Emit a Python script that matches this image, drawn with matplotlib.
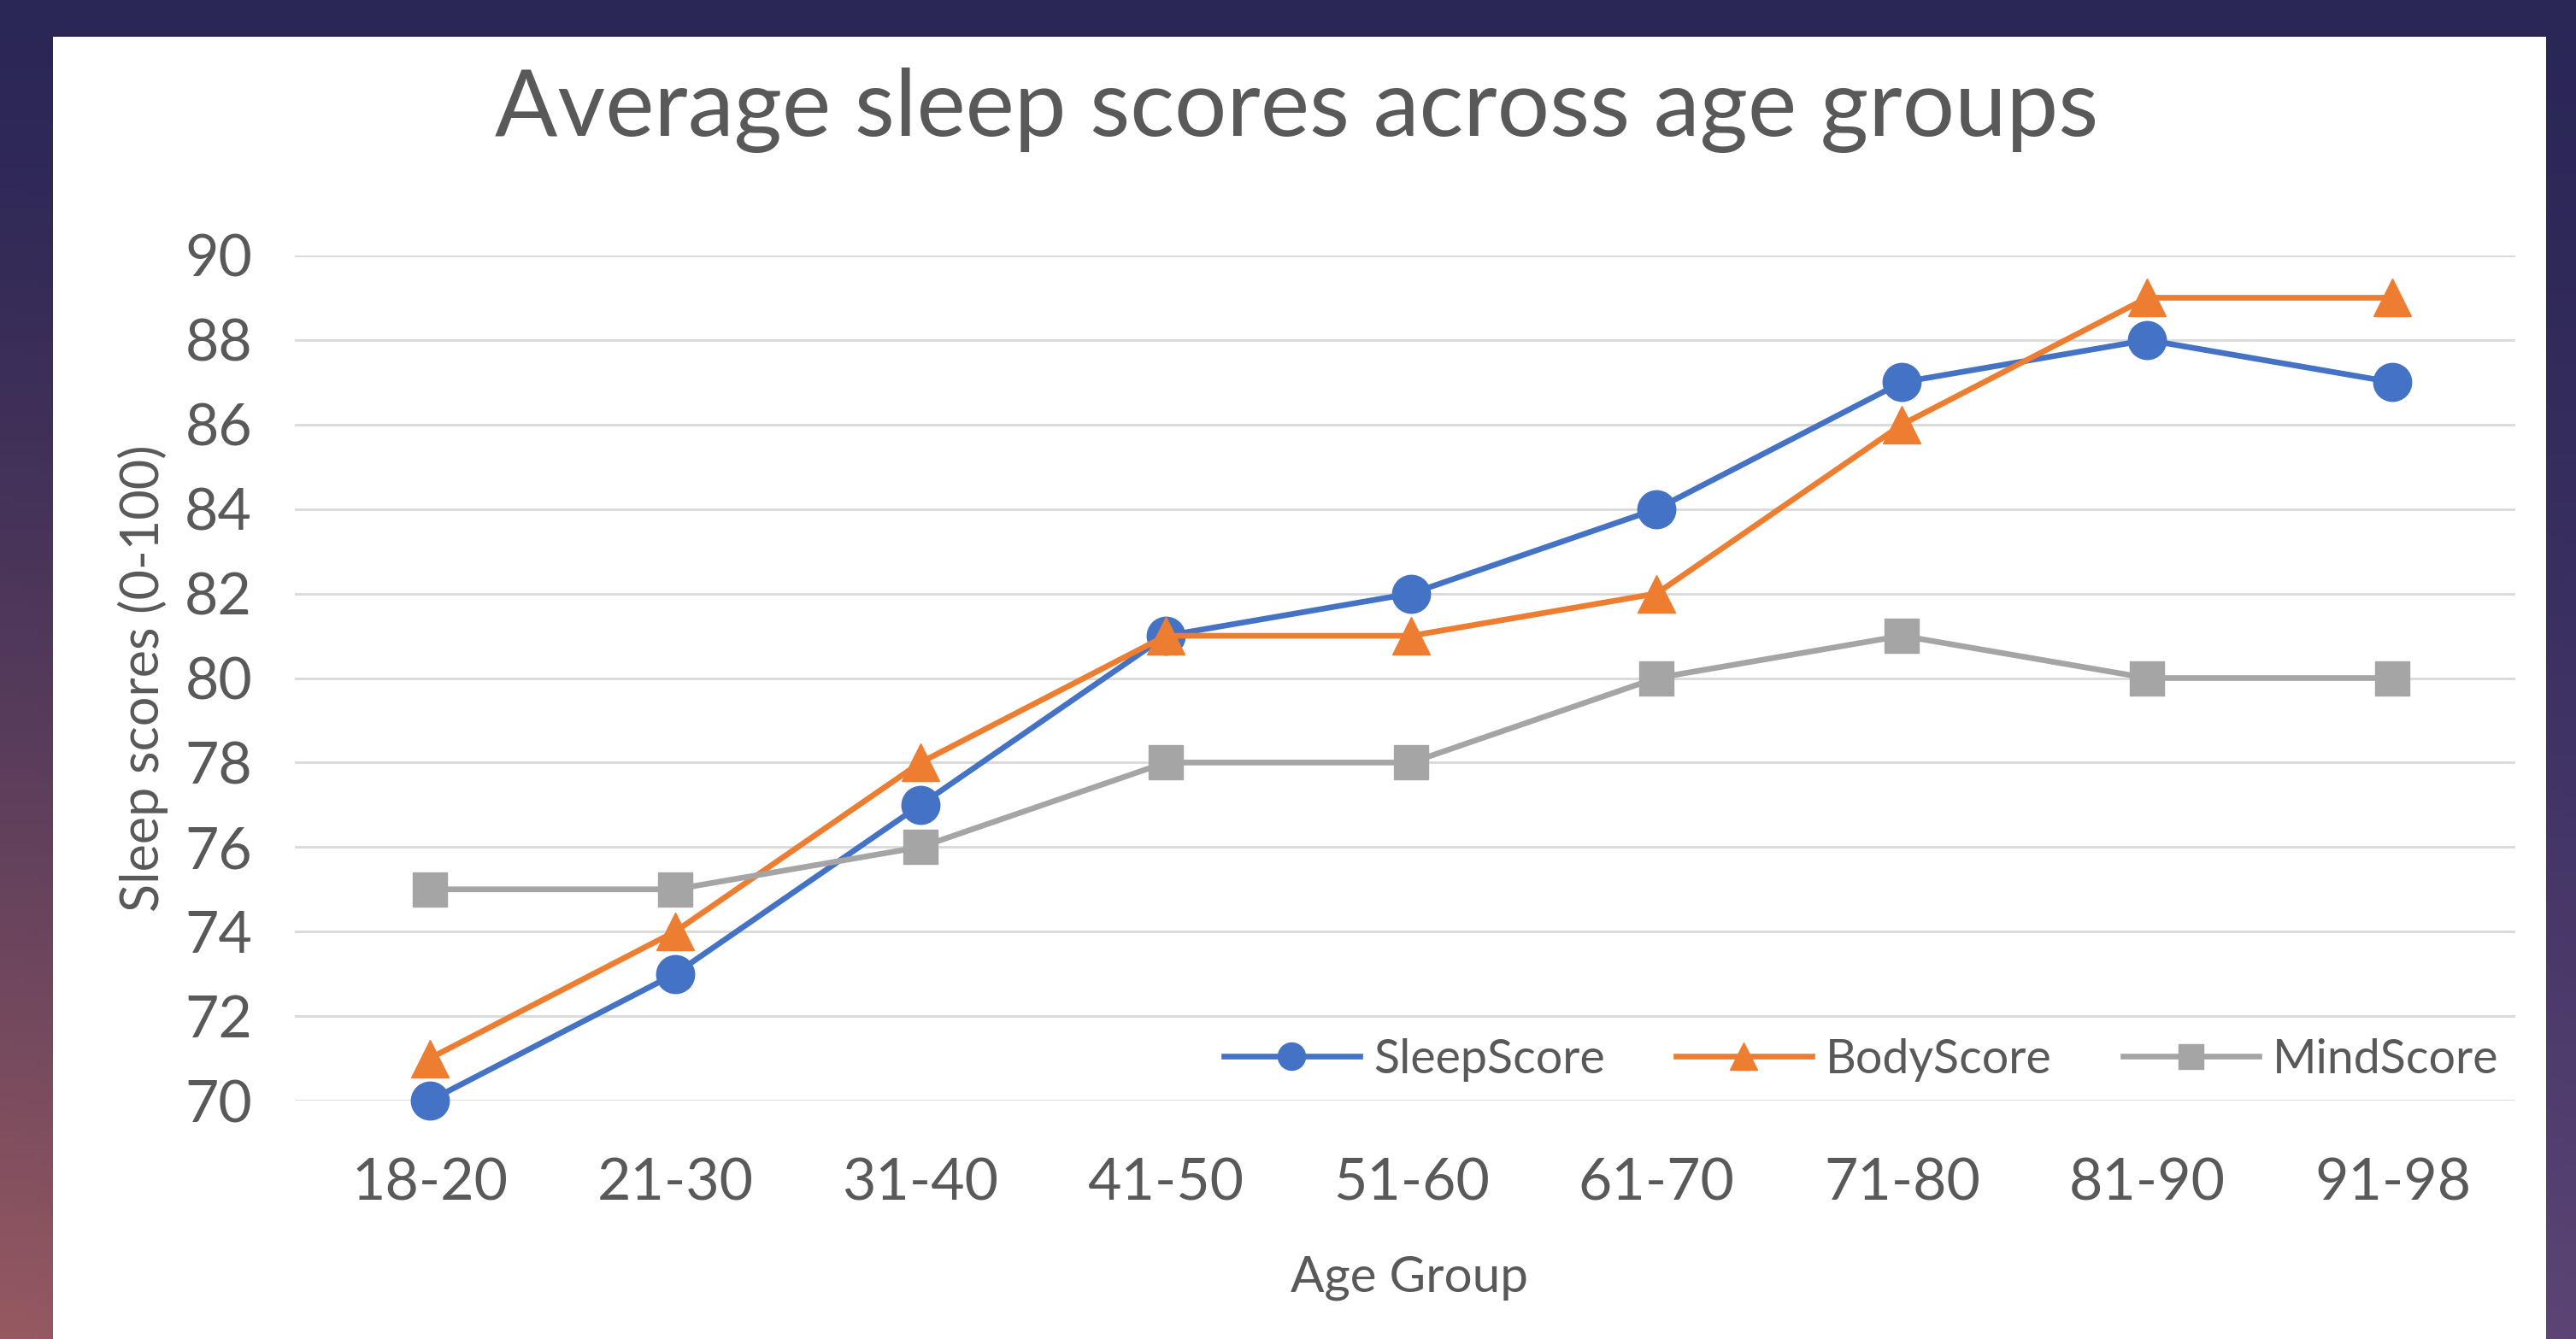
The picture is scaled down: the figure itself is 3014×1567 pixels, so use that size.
import numpy as np
import matplotlib.pyplot as plt
import matplotlib
from matplotlib.patches import Rectangle

matplotlib.rcParams['font.family'] = ['Lato', 'DejaVu Sans']

age_groups = ['18-20', '21-30', '31-40', '41-50', '51-60', '61-70', '71-80', '81-90', '91-98']
sleep_score = [70, 73, 77, 81, 82, 84, 87, 88, 87]
body_score = [71, 74, 78, 81, 81, 82, 86, 89, 89]
mind_score = [75, 75, 76, 78, 78, 80, 81, 80, 80]

text_col = '#595959'
W, H = 3014, 1567
fig = plt.figure(figsize=(W / 100, H / 100), dpi=100)

# slide background: dark navy at the top fading to rose (left) / purple (right)
bg = fig.add_axes([0, 0, 1, 1])
bg.set_axis_off()
yy, xx = np.mgrid[0:1:200j, 0:1:200j]
top = np.array([0.165, 0.15, 0.34])
bl = np.array([0.59, 0.35, 0.38])
br = np.array([0.36, 0.27, 0.46])
bottom = bl[None, None, :] * (1 - xx[..., None]) + br[None, None, :] * xx[..., None]
t = (yy[..., None] ** 1.4)
img = top[None, None, :] * (1 - t) + bottom * t
bg.imshow(img, extent=[0, 1, 0, 1], origin='upper', aspect='auto')
bg.add_patch(Rectangle((62 / W, 0), (2979 - 62) / W, 1 - 43 / H,
                       transform=bg.transAxes, facecolor='white', edgecolor='none'))
bg.set_xlim(0, 1)
bg.set_ylim(0, 1)

ax = fig.add_axes([345 / W, 1 - 1288 / H, (2943 - 345) / W, (1288 - 299) / H])
ax.set_facecolor('none')
x = np.arange(len(age_groups))

series = [
    (sleep_score, 'SleepScore', '#4472C4', 'o', 32),
    (body_score, 'BodyScore', '#ED7D31', '^', 32),
    (mind_score, 'MindScore', '#A5A5A5', 's', 29),
]
for vals, name, col, mk, ms in series:
    ax.plot(x, vals, color=col, lw=4.8, marker=mk, markersize=ms,
            label=name, clip_on=False, zorder=3)

ax.set_xlim(-0.55, 8.5)
ax.set_ylim(70, 90)
ax.set_yticks(range(70, 91, 2))
ax.set_xticks(x)
ax.set_xticklabels(age_groups)
ax.grid(axis='y', color='#d9d9d9', lw=2)
ax.set_axisbelow(True)
for s in ax.spines.values():
    s.set_visible(False)
ax.tick_params(length=0, labelsize=49, colors=text_col)
ax.tick_params(axis='y', pad=36)
ax.tick_params(axis='x', pad=48)

ax.set_ylabel('Sleep scores (0-100)', fontsize=44, color=text_col, labelpad=14)
fig.text(1649 / W, 1 - 1496 / H, 'Age Group', fontsize=42, color=text_col,
         ha='center', va='center')
fig.text(1517 / W, 1 - 129 / H, 'Average sleep scores across age groups',
         fontsize=78, color=text_col, ha='center', va='center')

ax.legend(loc='center', bbox_to_anchor=(2178 / W, 1 - 1240 / H),
          bbox_transform=fig.transFigure, ncol=3, frameon=False,
          fontsize=40, labelcolor=text_col, handlelength=2.85,
          handletextpad=0.3, columnspacing=1.5, markerscale=0.72)

fig.savefig('out.png', dpi=100)
